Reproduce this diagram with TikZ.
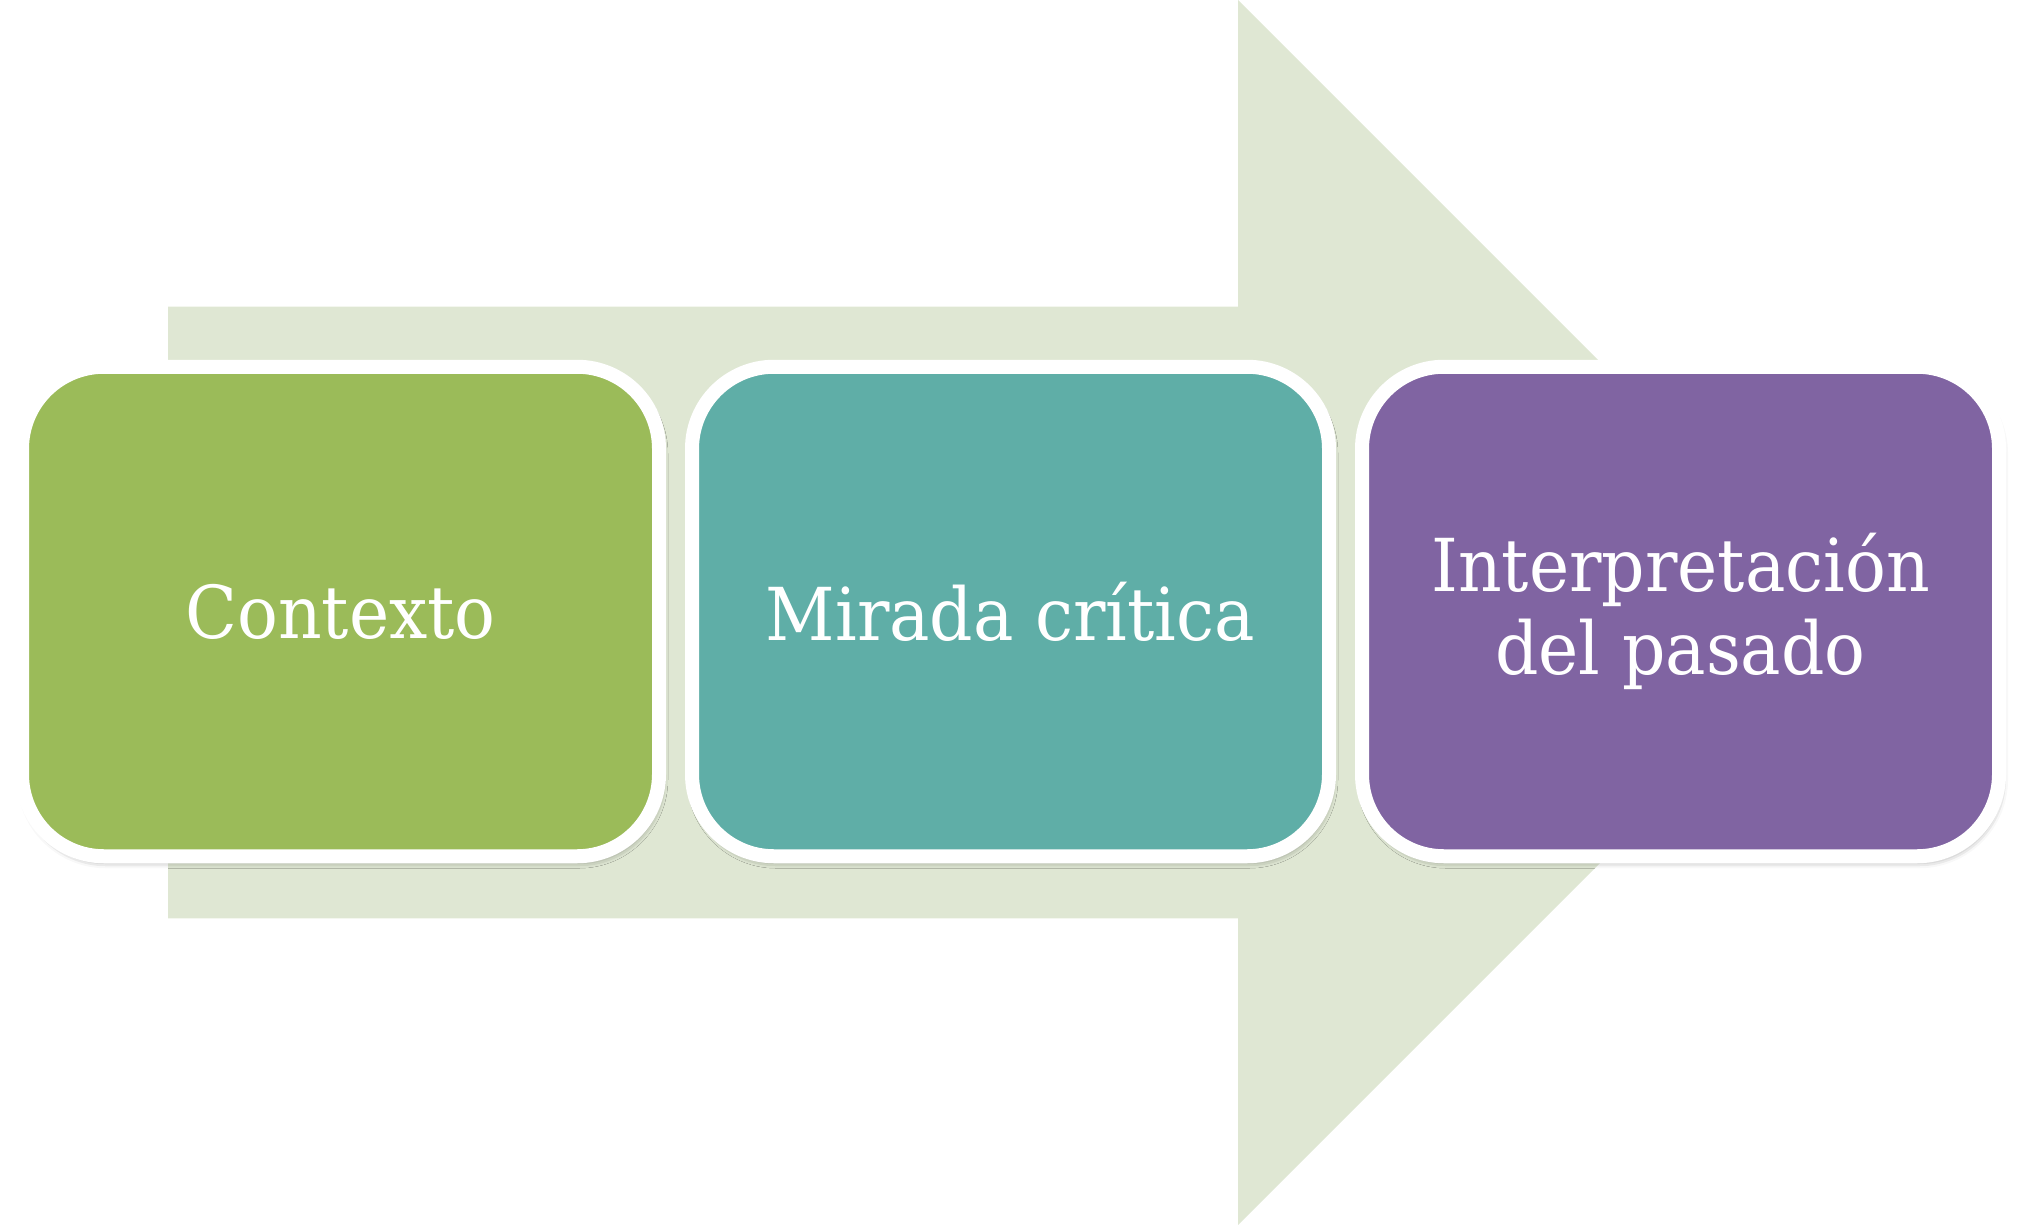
\documentclass[tikz,border=0pt]{standalone}
\usepackage{fontspec}
\setmainfont{DejaVu Serif}[FakeStretch=0.93]
\usetikzlibrary{shadows.blur}
\definecolor{arrowfill}{HTML}{DFE7D3}
\definecolor{cgreen}{HTML}{9BBB59}
\definecolor{cteal}{HTML}{5FAEA7}
\definecolor{cpurple}{HTML}{8064A2}
\tikzset{
  stage/.style={draw=white, line width=14pt, rounded corners=82pt,
    minimum width=637pt, minimum height=489.5pt, inner sep=0pt,
    text=white, align=center, font=\fontsize{73}{83}\selectfont,
    blur shadow={shadow xshift=2pt, shadow yshift=-5pt, shadow blur radius=7pt, shadow opacity=45}},
}
\begin{document}
\begin{tikzpicture}[x=1pt,y=-1pt]
\useasboundingbox (0,0) rectangle (2020,1225);
\fill[arrowfill] (168,306.6) -- (1238,306.6) -- (1238,0) -- (1850.5,612.5) -- (1238,1225) -- (1238,918.4) -- (168,918.4) -- cycle;
\node[stage, fill=cgreen] (s1) at (340.5,611.5) {Contexto};
\node[stage, fill=cteal] (s2) at (1010.5,611.5) {Mirada crítica};
\node[stage, fill=cpurple] (s3) at (1680.5,611.5) {Interpretación\\del pasado};
\end{tikzpicture}
\end{document}
